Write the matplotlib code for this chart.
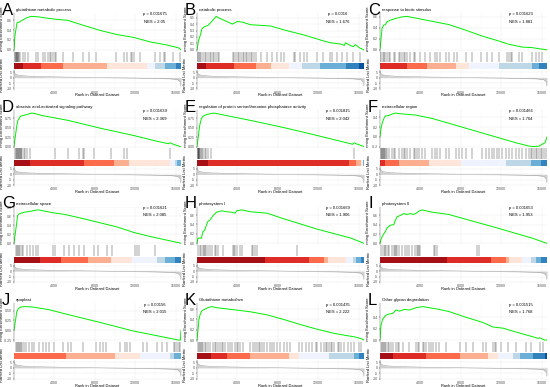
import matplotlib
matplotlib.use("Agg")
import matplotlib.pyplot as plt
from matplotlib.transforms import Bbox, TransformedBbox

plt.rcParams["font.family"] = ["Liberation Sans", "DejaVu Sans"]
plt.rcParams["axes.unicode_minus"] = False

N_GENES = 16540
BAND_COLORS = ["#A50F15", "#DE2D26", "#FB6A4A", "#FCAE91", "#FEE5D9",
               "#EFF3FF", "#BDD7E7", "#6BAED6", "#3182BD", "#08519C"]

# ranked list metric, shared by all panels
RANK_X = [0, 100, 300, 800, 1500, 3000, 5000, 8000, 10000, 12000, 14000, 15500, 16200, 16450, 16540]
RANK_Y = [6.5, 3.5, 2.5, 1.8, 1.3, 0.9, 0.5, 0.05, -0.2, -0.4, -0.7, -1.1, -1.8, -4.0, -8.0]

LETTERS = ["A", "B", "C", "D", "E", "F", "G", "H", "I", "J", "K", "L"]
TITLES = ["glutathione metabolic process", "catabolic process", "response to biotic stimulus",
          "abscisic acid-activated signaling pathway",
          "regulation of protein serine/threonine phosphatase activity", "extracellular region",
          "extracellular space", "photosystem I", "photosystem II",
          "apoplast", "Glutathione metabolism", "Other glycan degradation"]
P_VALUES = ["0.001675", "0.0016", "0.001623", "0.001639", "0.001815", "0.001466",
            "0.001621", "0.001669", "0.001653", "0.00156", "0.001435", "0.001515"]
NES_VALUES = ["2.05", "1.676", "1.881", "2.369", "2.042", "1.764",
              "2.085", "1.906", "1.953", "2.015", "2.222", "1.768"]
ES_TICKS = [[0, 0.2, 0.4, 0.6], [0, 0.1, 0.2, 0.3, 0.4, 0.5], [0, 0.2, 0.4, 0.6],
            [0, 0.25, 0.5, 0.75], [0, 0.25, 0.5, 0.75], [-0.2, 0, 0.2, 0.4],
            [0, 0.2, 0.4, 0.6, 0.8], [0, 0.2, 0.4, 0.6], [0, 0.2, 0.4, 0.6],
            [-0.25, 0, 0.25, 0.5], [0, 0.2, 0.4, 0.6], [0, 0.2, 0.4]]

A_ES_X = [0, 100, 300, 500, 800, 1250, 1700, 2400, 3400, 4200, 5300, 7000, 8600, 10200, 11900, 13500, 15100, 15800, 16300, 16540]
A_ES_Y = [0.0, 0.30, 0.55, 0.56, 0.60, 0.65, 0.68, 0.67, 0.64, 0.62, 0.60, 0.49, 0.39, 0.31, 0.25, 0.16, 0.10, 0.065, 0.04, 0.0]
A_HITS = [40, 100, 160, 200, 260, 300, 360, 420, 500, 590, 850, 1080, 1400, 2160, 2390, 2880, 3100, 3370, 3530, 3700,
          3860, 4020, 4120, 4840, 5820, 6800, 7460, 8110, 10070, 10890, 11220, 11540, 11710, 11870, 12520,
          14000, 14490, 14810, 14980, 15790, 16450]
A_BANDS = [0, 900, 2700, 4840, 9190, 13180, 14000, 15000, 16000, 16540, 16540]

B_ES_X = [0, 150, 350, 500, 750, 1100, 1400, 1900, 2100, 3500, 4000, 4500, 5300, 7300, 8600, 10600, 12500, 13200, 14200, 14600, 14700, 15300, 15500, 15700, 16100, 16540]
B_ES_Y = [0, 0.14, 0.24, 0.33, 0.36, 0.38, 0.43, 0.52, 0.50, 0.40, 0.44, 0.43, 0.39, 0.37, 0.31, 0.23, 0.14, 0.11, 0.09, 0.07, 0.11, 0.06, 0.05, 0.08, 0.03, 0.0]
B_HITS = [0, 100, 200, 290, 425, 590, 750, 915, 1080, 1240, 1400, 1570, 1730, 1900, 2060, 2220, 3530, 3700, 3860, 4020,
          4190, 4350, 4510, 4680, 4840, 5000, 5170, 5330, 5490, 5660, 5820, 6310, 6970, 7460, 7950, 8270, 8600,
          9580, 9740, 10240, 10560, 10890, 11870, 12520, 13180, 13340, 13830, 14320, 14810, 15470, 16120]
B_BANDS = [0, 900, 3700, 5820, 7290, 9090, 10400, 12200, 14800, 16000, 16540]

C_ES_X = [0, 200, 360, 530, 700, 1030, 1520, 2180, 2680, 3180, 3500, 5160, 6820, 8470, 10130, 11780, 12780, 14100, 15090, 15750, 16540]
C_ES_Y = [0, 0.39, 0.45, 0.46, 0.51, 0.54, 0.57, 0.60, 0.61, 0.59, 0.58, 0.52, 0.46, 0.36, 0.25, 0.16, 0.10, 0.05, 0.04, 0.02, 0.0]
C_HITS = [30, 130, 260, 360, 530, 700, 860, 1030, 1360, 1520, 1850, 2020, 2180, 2350, 2520, 2680, 3010, 3340, 3510,
          4010, 4500, 5000, 5490, 5660, 5990, 6490, 6820, 7320, 7650, 8470, 9140, 9960, 10630, 11120, 11780,
          12610, 12780, 12940, 13110, 13770, 14100, 15090, 15430, 15750, 16090]
C_BANDS = [0, 0, 2680, 4670, 7480, 8800, 11780, 15090, 15750, 16540, 16540]

D_ES_X = [0, 260, 390, 650, 900, 1240, 1730, 2060, 2700, 5330, 8600, 11870, 14160, 15300, 15470, 15650, 16450, 16540]
D_ES_Y = [0, 0.52, 0.69, 0.80, 0.815, 0.84, 0.88, 0.87, 0.82, 0.69, 0.48, 0.29, 0.14, 0.075, 0.10, 0.075, 0.0, 0.0]
D_HITS = [100, 200, 260, 330, 390, 460, 520, 590, 650, 720, 820, 1010, 1080, 1240, 1570, 4020, 5330, 6470, 6800,
          6970, 7950, 9580, 10890, 11220, 15470]
D_BANDS = [0, 1570, 6970, 9910, 11380, 15470, 15900, 16100, 16540, 16540, 16540]

E_ES_X = [0, 270, 430, 600, 930, 1270, 1600, 1930, 2260, 5260, 8590, 11920, 15420, 15580, 15750, 16540]
E_ES_Y = [0, 0.56, 0.73, 0.80, 0.84, 0.86, 0.88, 0.87, 0.85, 0.69, 0.50, 0.29, 0.06, 0.10, 0.075, 0.0]
E_HITS = [60, 100, 130, 170, 200, 230, 270, 370, 470, 600, 770, 930, 1100, 1430, 15580]
E_BANDS = [0, 1100, 15090, 15750, 16250, 16350, 16400, 16450, 16540, 16540, 16540]

F_ES_X = [0, 130, 260, 430, 530, 860, 1190, 1520, 1850, 3510, 5160, 6820, 8470, 10130, 11780, 13440, 14760, 15260, 15760, 16090, 16350, 16540]
F_ES_Y = [0, 0.21, 0.31, 0.40, 0.43, 0.44, 0.47, 0.49, 0.48, 0.45, 0.38, 0.28, 0.18, 0.08, -0.02, -0.12, -0.19, -0.20, -0.19, -0.15, -0.12, 0.0]
F_HITS = [33, 99, 166, 232, 298, 364, 430, 530, 629, 728, 861, 1192, 1357, 1523, 1854, 2185, 2350, 2516, 2681,
          3012, 3343, 3509, 3674, 3840, 4171, 4502, 5164, 5495, 5660, 5991, 6488, 6819, 7481, 7812, 8143,
          8474, 9136, 10129, 10460, 10791, 11122, 11287, 11618, 11784, 12115, 12446, 12777, 13108, 13439,
          13770, 14101, 14432, 14763, 14928, 15094, 15260, 15425, 15590, 15756, 15921, 16087, 16252, 16418]
F_BANDS = [0, 0, 530, 1850, 4830, 7980, 12450, 14930, 15930, 16540, 16540]

G_ES_X = [0, 360, 490, 750, 1080, 1400, 1730, 2060, 2390, 4020, 5000, 6960, 8600, 10240, 11870, 13500, 15140, 16450, 16540]
G_ES_Y = [0, 0.61, 0.65, 0.67, 0.69, 0.70, 0.71, 0.73, 0.74, 0.67, 0.64, 0.54, 0.45, 0.36, 0.24, 0.15, 0.07, 0.007, 0.0]
G_HITS = [160, 260, 360, 490, 620, 750, 920, 1240, 1570, 1900, 2220, 2390, 3860, 4020, 5000, 5490, 5980, 6470,
          6970, 7950, 8270, 9250, 9740, 12030, 12200, 12360, 14000]
G_BANDS = [0, 2550, 4680, 7290, 9580, 11710, 14160, 14980, 15960, 16540, 16540]

H_ES_X = [0, 100, 430, 600, 770, 930, 1100, 1270, 1600, 1930, 2100, 2430, 2930, 3430, 3760, 3930, 4430, 5260, 6930, 8590, 11920, 15250, 16540]
H_ES_Y = [0, 0.11, 0.11, 0.25, 0.28, 0.39, 0.47, 0.49, 0.59, 0.66, 0.67, 0.69, 0.67, 0.66, 0.64, 0.69, 0.71, 0.67, 0.64, 0.52, 0.30, 0.11, 0.0]
H_HITS = [100, 270, 430, 600, 670, 770, 930, 1100, 1270, 1530, 1760, 1930, 2100, 2600, 3600, 3660, 3760, 3930,
          4260, 4430, 5430, 5590, 5760, 5930, 9920]
H_BANDS = [0, 6760, 11090, 12600, 13000, 14750, 15420, 15750, 16250, 16540, 16540]

I_ES_X = [0, 130, 360, 530, 700, 1030, 1360, 1520, 1690, 2020, 2350, 2680, 3010, 3340, 3670, 3840, 4170, 4340, 5160, 6820, 8470, 11780, 15090, 16540]
I_ES_Y = [0, 0.11, 0.20, 0.25, 0.33, 0.39, 0.40, 0.49, 0.57, 0.60, 0.64, 0.62, 0.64, 0.62, 0.66, 0.69, 0.72, 0.71, 0.67, 0.62, 0.52, 0.32, 0.11, 0.0]
I_HITS = [33, 199, 364, 463, 596, 794, 927, 1192, 1357, 1456, 1589, 1688, 1854, 2185, 2516, 2681, 2847, 3178,
          3509, 3674, 3773, 3840, 4005, 5329, 5495, 5660, 9632, 9798]
I_BANDS = [0, 6650, 10960, 12450, 12780, 14100, 14930, 15430, 15930, 16540, 16540]

J_ES_X = [0, 270, 400, 670, 1170, 1830, 3500, 5160, 8490, 11820, 15150, 16320, 16480, 16540]
J_ES_Y = [0, 0.46, 0.54, 0.59, 0.60, 0.59, 0.52, 0.41, 0.20, -0.02, -0.19, -0.25, -0.25, 0.0]
J_HITS = [167, 266, 366, 466, 566, 699, 833, 999, 1166, 1499, 1832, 1998, 2498, 2831, 3164, 3497, 3996, 4829,
          5328, 5661, 6827, 8159, 8492, 8825, 9158, 10490, 10989, 11156, 11489, 12821, 13154, 14153, 14652,
          15152, 15818, 15984, 16151, 16317, 16484]
J_BANDS = [0, 0, 0, 5160, 9990, 12490, 15480, 15820, 16540, 16540, 16540]

K_ES_X = [0, 200, 330, 500, 770, 1100, 1430, 1930, 3600, 5260, 6930, 8590, 10260, 11920, 13590, 14590, 15580, 16250, 16540]
K_ES_Y = [0, 0.41, 0.51, 0.57, 0.60, 0.63, 0.65, 0.63, 0.59, 0.55, 0.49, 0.40, 0.30, 0.21, 0.13, 0.095, 0.063, 0.03, 0.0]
K_HITS = [100, 200, 300, 400, 500, 600, 766, 932, 1099, 1265, 1598, 1765, 1931, 2098, 2264, 2431, 2597, 2764,
          3097, 3263, 3430, 3763, 3929, 4096, 4262, 4595, 5261, 5594, 5761, 5927, 6094, 6260, 6427, 6593,
          6926, 7259, 7426, 7592, 7925, 8258, 8591, 8924, 9257, 10090, 10423, 10756, 11089, 11422, 11755,
          11921, 12254, 12587, 12754, 12920, 13087, 13253, 13420, 13586, 13919, 14086, 14252, 14585, 14918,
          15251, 15584, 16084, 16250]
K_BANDS = [0, 1430, 2930, 5260, 9090, 10090, 13090, 15580, 16080, 16540, 16540]

L_ES_X = [0, 99, 265, 600, 930, 1260, 1590, 1920, 2420, 2910, 3570, 4240, 4900, 5890, 6880, 8540, 10190, 11190, 12180, 13500, 15160, 15660, 15820, 16320, 16540]
L_ES_Y = [0, 0.26, 0.37, 0.44, 0.46, 0.47, 0.53, 0.51, 0.54, 0.53, 0.57, 0.59, 0.57, 0.54, 0.50, 0.40, 0.31, 0.23, 0.21, 0.14, 0.057, 0.03, 0.04, 0.0, 0.0]
L_HITS = [99, 199, 298, 397, 497, 596, 761, 927, 1092, 1258, 1589, 1754, 1920, 2251, 2913, 3575, 3740, 3906,
          4237, 4402, 4568, 4899, 5064, 5230, 5561, 5892, 6554, 7878, 8540, 9202, 10195, 10526, 11188, 11353,
          11519, 12015, 12677, 13505, 14498, 14994, 15822, 16153]
L_BANDS = [0, 1260, 4570, 7880, 10690, 11680, 13170, 13830, 15160, 16320, 16540]

PANELS = [
    (A_ES_X, A_ES_Y, A_HITS, A_BANDS), (B_ES_X, B_ES_Y, B_HITS, B_BANDS), (C_ES_X, C_ES_Y, C_HITS, C_BANDS),
    (D_ES_X, D_ES_Y, D_HITS, D_BANDS), (E_ES_X, E_ES_Y, E_HITS, E_BANDS), (F_ES_X, F_ES_Y, F_HITS, F_BANDS),
    (G_ES_X, G_ES_Y, G_HITS, G_BANDS), (H_ES_X, H_ES_Y, H_HITS, H_BANDS), (I_ES_X, I_ES_Y, I_HITS, I_BANDS),
    (J_ES_X, J_ES_Y, J_HITS, J_BANDS), (K_ES_X, K_ES_Y, K_HITS, K_BANDS), (L_ES_X, L_ES_Y, L_HITS, L_BANDS),
]

W, H = 550, 387
ROW_H = 96.75
COL_LEFT = [14, 197, 380]
AX_W = 167
GRID = "#EBEBEB"
TXT = "#4D4D4D"

fig = plt.figure(figsize=(W / 100, H / 100), dpi=100)


def fx(px):
    return px / W


def fy(py):
    return 1 - py / H


def add_ax(left, top, width, height):
    return fig.add_axes([left / W, 1 - (top + height) / H, width / W, height / H])


def style_axis(ax):
    for side in ("top", "right", "bottom"):
        ax.spines[side].set_visible(False)
    ax.spines["left"].set_linewidth(0.3)
    ax.spines["left"].set_color("#555555")
    ax.set_xlim(0, N_GENES)
    ax.set_xticks(range(4000, 16001, 4000))
    ax.set_xticks(range(2000, 16001, 4000), minor=True)
    ax.grid(which="major", color=GRID, lw=0.35)
    ax.grid(which="minor", axis="x", color="#F4F4F4", lw=0.25)
    ax.set_axisbelow(True)
    ax.tick_params(axis="y", labelsize=2.5, length=1, width=0.3, pad=0.5, labelcolor=TXT)
    ax.tick_params(axis="x", which="both", length=0, labelsize=2.6, pad=0.8, labelcolor=TXT)


def draw_panel(i):
    es_x, es_y, hits, bands = PANELS[i]
    row, col = divmod(i, 3)
    top = row * ROW_H
    left = COL_LEFT[col]

    # running enrichment score
    ax_es = add_ax(left, top + 13, AX_W, 38.5)
    style_axis(ax_es)
    ax_es.plot(es_x, es_y, color="#00EE00", lw=0.7)
    lo, hi = min(es_y), max(es_y)
    span = hi - lo
    ax_es.set_yticks(ES_TICKS[i])
    ax_es.set_ylim(lo - 0.05 * span, hi + 0.1 * span)
    ax_es.tick_params(axis="x", labelbottom=False)

    # hits and colour bands
    ax_hit = add_ax(left, top + 51.5, AX_W, 17.5)
    ax_hit.set_xlim(0, N_GENES)
    ax_hit.set_ylim(0, 1)
    ax_hit.axis("off")
    ax_hit.vlines(hits, 0.4, 1.0, color="black", lw=0.35, alpha=0.7)
    for k, color in enumerate(BAND_COLORS):
        w = bands[k + 1] - bands[k]
        if w > 0:
            ax_hit.broken_barh([(bands[k], w)], (0, 0.34), facecolors=color, edgecolor="none")

    # ranked list metric
    ax_rank = add_ax(left, top + 69.5, AX_W, 20)
    style_axis(ax_rank)
    ax_rank.fill_between(RANK_X, 0, RANK_Y, color="#D0D0D0", lw=0)
    ax_rank.plot(RANK_X, RANK_Y, color="#A0A0A0", lw=0.35)
    ax_rank.set_yticks([5, 0, -5, -10])
    ax_rank.set_ylim(-11, 7.5)

    # texts
    fig.text(fx(left - 12), fy(top + 15), LETTERS[i], fontsize=12, va="baseline", ha="left")
    fig.text(fx(left + 2), fy(top + 10), TITLES[i], fontsize=3.1, va="center", ha="left")
    fig.text(fx(left + 141), fy(top + 14.5), f"p = {P_VALUES[i]}", fontsize=3, ha="center", va="center")
    fig.text(fx(left + 141), fy(top + 22), f"NES = {NES_VALUES[i]}", fontsize=3, ha="center", va="center")
    lab = fig.text(fx(left - 11.5), fy(top + 31), "Running Enrichment Score", rotation=90,
                   fontsize=3, ha="center", va="center")
    lab.set_clip_box(TransformedBbox(Bbox([[0, fy(top + 51.5)], [1, fy(top)]]), fig.transFigure))
    lab.set_clip_on(True)
    fig.text(fx(left - 11.5), fy(top + 75), "Ranked List Metric", rotation=90,
             fontsize=3, ha="center", va="center")
    fig.text(fx(left + AX_W / 2), fy(top + 95.3), "Rank in Ordered Dataset",
             fontsize=2.9, ha="center", va="center")


for i in range(len(PANELS)):
    draw_panel(i)

fig.savefig("out.png", dpi=100)
